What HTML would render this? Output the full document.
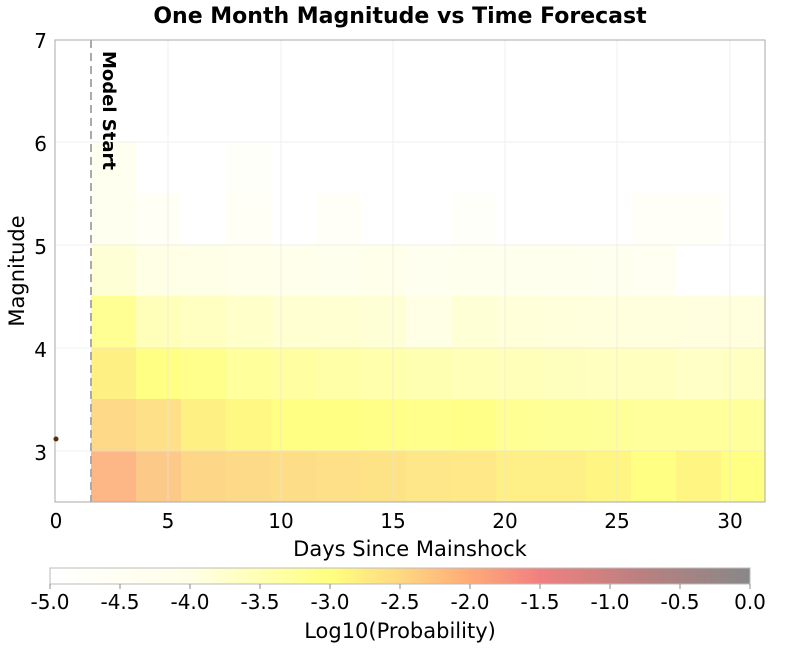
<!DOCTYPE html>
<html><head><meta charset="utf-8"><style>
body{margin:0;background:#fff;font-family:"DejaVu Sans","Liberation Sans",sans-serif;}
</style></head><body>
<svg width="800" height="650" xmlns="http://www.w3.org/2000/svg" font-family="DejaVu Sans, Liberation Sans, sans-serif">
<defs>
<linearGradient id="cb" x1="0" x2="1" y1="0" y2="0">
<stop offset="0" stop-color="#ffffff"/>
<stop offset="0.2" stop-color="#ffffe8"/>
<stop offset="0.4" stop-color="#ffff80"/>
<stop offset="0.5" stop-color="#fed880"/>
<stop offset="0.6" stop-color="#ffaa78"/>
<stop offset="0.7" stop-color="#f08080"/>
<stop offset="0.85" stop-color="#b88080"/>
<stop offset="1" stop-color="#888888"/>
</linearGradient>
</defs>
<text x="400" y="23" text-anchor="middle" font-size="22" font-weight="bold">One Month Magnitude vs Time Forecast</text>
<rect x="55" y="40" width="710" height="462" fill="#fff"/>
<g opacity="0.97">
<rect x="91" y="450.5" width="45" height="51.5" fill="#fdb584"/>
<rect x="136" y="450.5" width="45" height="51.5" fill="#fdc885"/>
<rect x="181" y="450.5" width="45" height="51.5" fill="#fdd585"/>
<rect x="226" y="450.5" width="45" height="51.5" fill="#fdd985"/>
<rect x="271" y="450.5" width="45" height="51.5" fill="#fddc84"/>
<rect x="316" y="450.5" width="45" height="51.5" fill="#fde085"/>
<rect x="361" y="450.5" width="45" height="51.5" fill="#fee283"/>
<rect x="406" y="450.5" width="45" height="51.5" fill="#fee785"/>
<rect x="451" y="450.5" width="45" height="51.5" fill="#fee885"/>
<rect x="496" y="450.5" width="45" height="51.5" fill="#fef083"/>
<rect x="541" y="450.5" width="45" height="51.5" fill="#fef083"/>
<rect x="586" y="450.5" width="45" height="51.5" fill="#fff57f"/>
<rect x="631" y="450.5" width="45" height="51.5" fill="#ffff80"/>
<rect x="676" y="450.5" width="45" height="51.5" fill="#fff57f"/>
<rect x="721" y="450.5" width="44" height="51.5" fill="#ffff80"/>
<rect x="91" y="399" width="45" height="51.5" fill="#fed985"/>
<rect x="136" y="399" width="45" height="51.5" fill="#fee085"/>
<rect x="181" y="399" width="45" height="51.5" fill="#fff080"/>
<rect x="226" y="399" width="45" height="51.5" fill="#fff880"/>
<rect x="271" y="399" width="45" height="51.5" fill="#ffff80"/>
<rect x="316" y="399" width="45" height="51.5" fill="#ffff80"/>
<rect x="361" y="399" width="45" height="51.5" fill="#ffff84"/>
<rect x="406" y="399" width="45" height="51.5" fill="#ffff88"/>
<rect x="451" y="399" width="45" height="51.5" fill="#ffff84"/>
<rect x="496" y="399" width="45" height="51.5" fill="#ffff90"/>
<rect x="541" y="399" width="45" height="51.5" fill="#ffff94"/>
<rect x="586" y="399" width="45" height="51.5" fill="#ffff96"/>
<rect x="631" y="399" width="45" height="51.5" fill="#ffff98"/>
<rect x="676" y="399" width="45" height="51.5" fill="#ffff99"/>
<rect x="721" y="399" width="44" height="51.5" fill="#ffff99"/>
<rect x="91" y="347.5" width="45" height="51.5" fill="#fff080"/>
<rect x="136" y="347.5" width="45" height="51.5" fill="#ffff80"/>
<rect x="181" y="347.5" width="45" height="51.5" fill="#ffff88"/>
<rect x="226" y="347.5" width="45" height="51.5" fill="#ffff99"/>
<rect x="271" y="347.5" width="45" height="51.5" fill="#ffffa0"/>
<rect x="316" y="347.5" width="45" height="51.5" fill="#ffffa5"/>
<rect x="361" y="347.5" width="45" height="51.5" fill="#ffffaa"/>
<rect x="406" y="347.5" width="45" height="51.5" fill="#ffffb0"/>
<rect x="451" y="347.5" width="45" height="51.5" fill="#ffffb5"/>
<rect x="496" y="347.5" width="45" height="51.5" fill="#ffffb8"/>
<rect x="541" y="347.5" width="45" height="51.5" fill="#ffffbb"/>
<rect x="586" y="347.5" width="45" height="51.5" fill="#ffffbe"/>
<rect x="631" y="347.5" width="45" height="51.5" fill="#ffffbe"/>
<rect x="676" y="347.5" width="45" height="51.5" fill="#ffffc5"/>
<rect x="721" y="347.5" width="44" height="51.5" fill="#ffffc0"/>
<rect x="91" y="296" width="45" height="51.5" fill="#ffff90"/>
<rect x="136" y="296" width="45" height="51.5" fill="#ffffb8"/>
<rect x="181" y="296" width="45" height="51.5" fill="#ffffc0"/>
<rect x="226" y="296" width="45" height="51.5" fill="#ffffc8"/>
<rect x="271" y="296" width="45" height="51.5" fill="#ffffd0"/>
<rect x="316" y="296" width="45" height="51.5" fill="#ffffd0"/>
<rect x="361" y="296" width="45" height="51.5" fill="#ffffd5"/>
<rect x="406" y="296" width="45" height="51.5" fill="#ffffe5"/>
<rect x="451" y="296" width="45" height="51.5" fill="#ffffd5"/>
<rect x="496" y="296" width="45" height="51.5" fill="#ffffd8"/>
<rect x="541" y="296" width="45" height="51.5" fill="#ffffda"/>
<rect x="586" y="296" width="45" height="51.5" fill="#ffffdc"/>
<rect x="631" y="296" width="45" height="51.5" fill="#ffffdd"/>
<rect x="676" y="296" width="45" height="51.5" fill="#ffffe0"/>
<rect x="721" y="296" width="44" height="51.5" fill="#ffffdd"/>
<rect x="91" y="244.5" width="45" height="51.5" fill="#ffffd5"/>
<rect x="136" y="244.5" width="45" height="51.5" fill="#ffffe5"/>
<rect x="181" y="244.5" width="45" height="51.5" fill="#ffffe8"/>
<rect x="226" y="244.5" width="45" height="51.5" fill="#ffffea"/>
<rect x="271" y="244.5" width="45" height="51.5" fill="#ffffec"/>
<rect x="316" y="244.5" width="45" height="51.5" fill="#ffffee"/>
<rect x="361" y="244.5" width="45" height="51.5" fill="#ffffea"/>
<rect x="406" y="244.5" width="45" height="51.5" fill="#fffff0"/>
<rect x="451" y="244.5" width="45" height="51.5" fill="#ffffee"/>
<rect x="496" y="244.5" width="45" height="51.5" fill="#ffffee"/>
<rect x="541" y="244.5" width="45" height="51.5" fill="#ffffee"/>
<rect x="586" y="244.5" width="45" height="51.5" fill="#fffff0"/>
<rect x="631" y="244.5" width="45" height="51.5" fill="#fffff2"/>
<rect x="91" y="193" width="45" height="51.5" fill="#fffff0"/>
<rect x="136" y="193" width="45" height="51.5" fill="#fffff5"/>
<rect x="226" y="193" width="45" height="51.5" fill="#fffff5"/>
<rect x="316" y="193" width="45" height="51.5" fill="#fffff8"/>
<rect x="451" y="193" width="45" height="51.5" fill="#fffffa"/>
<rect x="631" y="193" width="45" height="51.5" fill="#fffff8"/>
<rect x="676" y="193" width="45" height="51.5" fill="#fffff8"/>
<rect x="91" y="141.5" width="45" height="51.5" fill="#fffff0"/>
<rect x="226" y="141.5" width="45" height="51.5" fill="#fffffa"/>
</g>
<g stroke="#e6e6e6" stroke-width="1" opacity="0.6">
<line x1="168" y1="40" x2="168" y2="502"/><line x1="281" y1="40" x2="281" y2="502"/>
<line x1="393" y1="40" x2="393" y2="502"/><line x1="505" y1="40" x2="505" y2="502"/>
<line x1="617" y1="40" x2="617" y2="502"/><line x1="730" y1="40" x2="730" y2="502"/>
<line x1="55" y1="142" x2="765" y2="142"/><line x1="55" y1="245" x2="765" y2="245"/>
<line x1="55" y1="348" x2="765" y2="348"/><line x1="55" y1="451" x2="765" y2="451"/>
</g>
<line x1="91" y1="40" x2="91" y2="502" stroke="#aaa" stroke-width="2" stroke-dasharray="8,5"/>
<rect x="55" y="40" width="710" height="462" fill="none" stroke="#aaa" stroke-width="1"/>
<circle cx="56" cy="439" r="2.5" fill="#5a2a10"/>
<text transform="translate(103,51) rotate(90)" font-size="18" font-weight="bold">Model Start</text>
<g font-size="20" text-anchor="middle">
<text x="56" y="528">0</text><text x="168" y="528">5</text><text x="281" y="528">10</text>
<text x="393" y="528">15</text><text x="505" y="528">20</text><text x="617" y="528">25</text><text x="730" y="528">30</text>
</g>
<g font-size="20" text-anchor="end">
<text x="47" y="48">7</text><text x="47" y="151">6</text><text x="47" y="254">5</text>
<text x="47" y="357">4</text><text x="47" y="460">3</text>
</g>
<text x="410" y="556" text-anchor="middle" font-size="21">Days Since Mainshock</text>
<text transform="translate(24,271) rotate(-90)" text-anchor="middle" font-size="21">Magnitude</text>
<rect x="50" y="568" width="700" height="16" fill="url(#cb)" stroke="#bbb" stroke-width="1"/>
<g stroke="#888"><line x1="50" y1="584" x2="50" y2="589"/><line x1="120" y1="584" x2="120" y2="589"/><line x1="190" y1="584" x2="190" y2="589"/><line x1="260" y1="584" x2="260" y2="589"/><line x1="330" y1="584" x2="330" y2="589"/><line x1="400" y1="584" x2="400" y2="589"/><line x1="470" y1="584" x2="470" y2="589"/><line x1="540" y1="584" x2="540" y2="589"/><line x1="610" y1="584" x2="610" y2="589"/><line x1="680" y1="584" x2="680" y2="589"/><line x1="750" y1="584" x2="750" y2="589"/></g>
<g font-size="20" text-anchor="middle">
<text x="50" y="609">-5.0</text><text x="120" y="609">-4.5</text><text x="190" y="609">-4.0</text><text x="260" y="609">-3.5</text><text x="330" y="609">-3.0</text><text x="400" y="609">-2.5</text><text x="470" y="609">-2.0</text><text x="540" y="609">-1.5</text><text x="610" y="609">-1.0</text><text x="680" y="609">-0.5</text><text x="750" y="609">0.0</text>
</g>
<text x="400" y="638" text-anchor="middle" font-size="21">Log10(Probability)</text>
</svg>
</body></html>
